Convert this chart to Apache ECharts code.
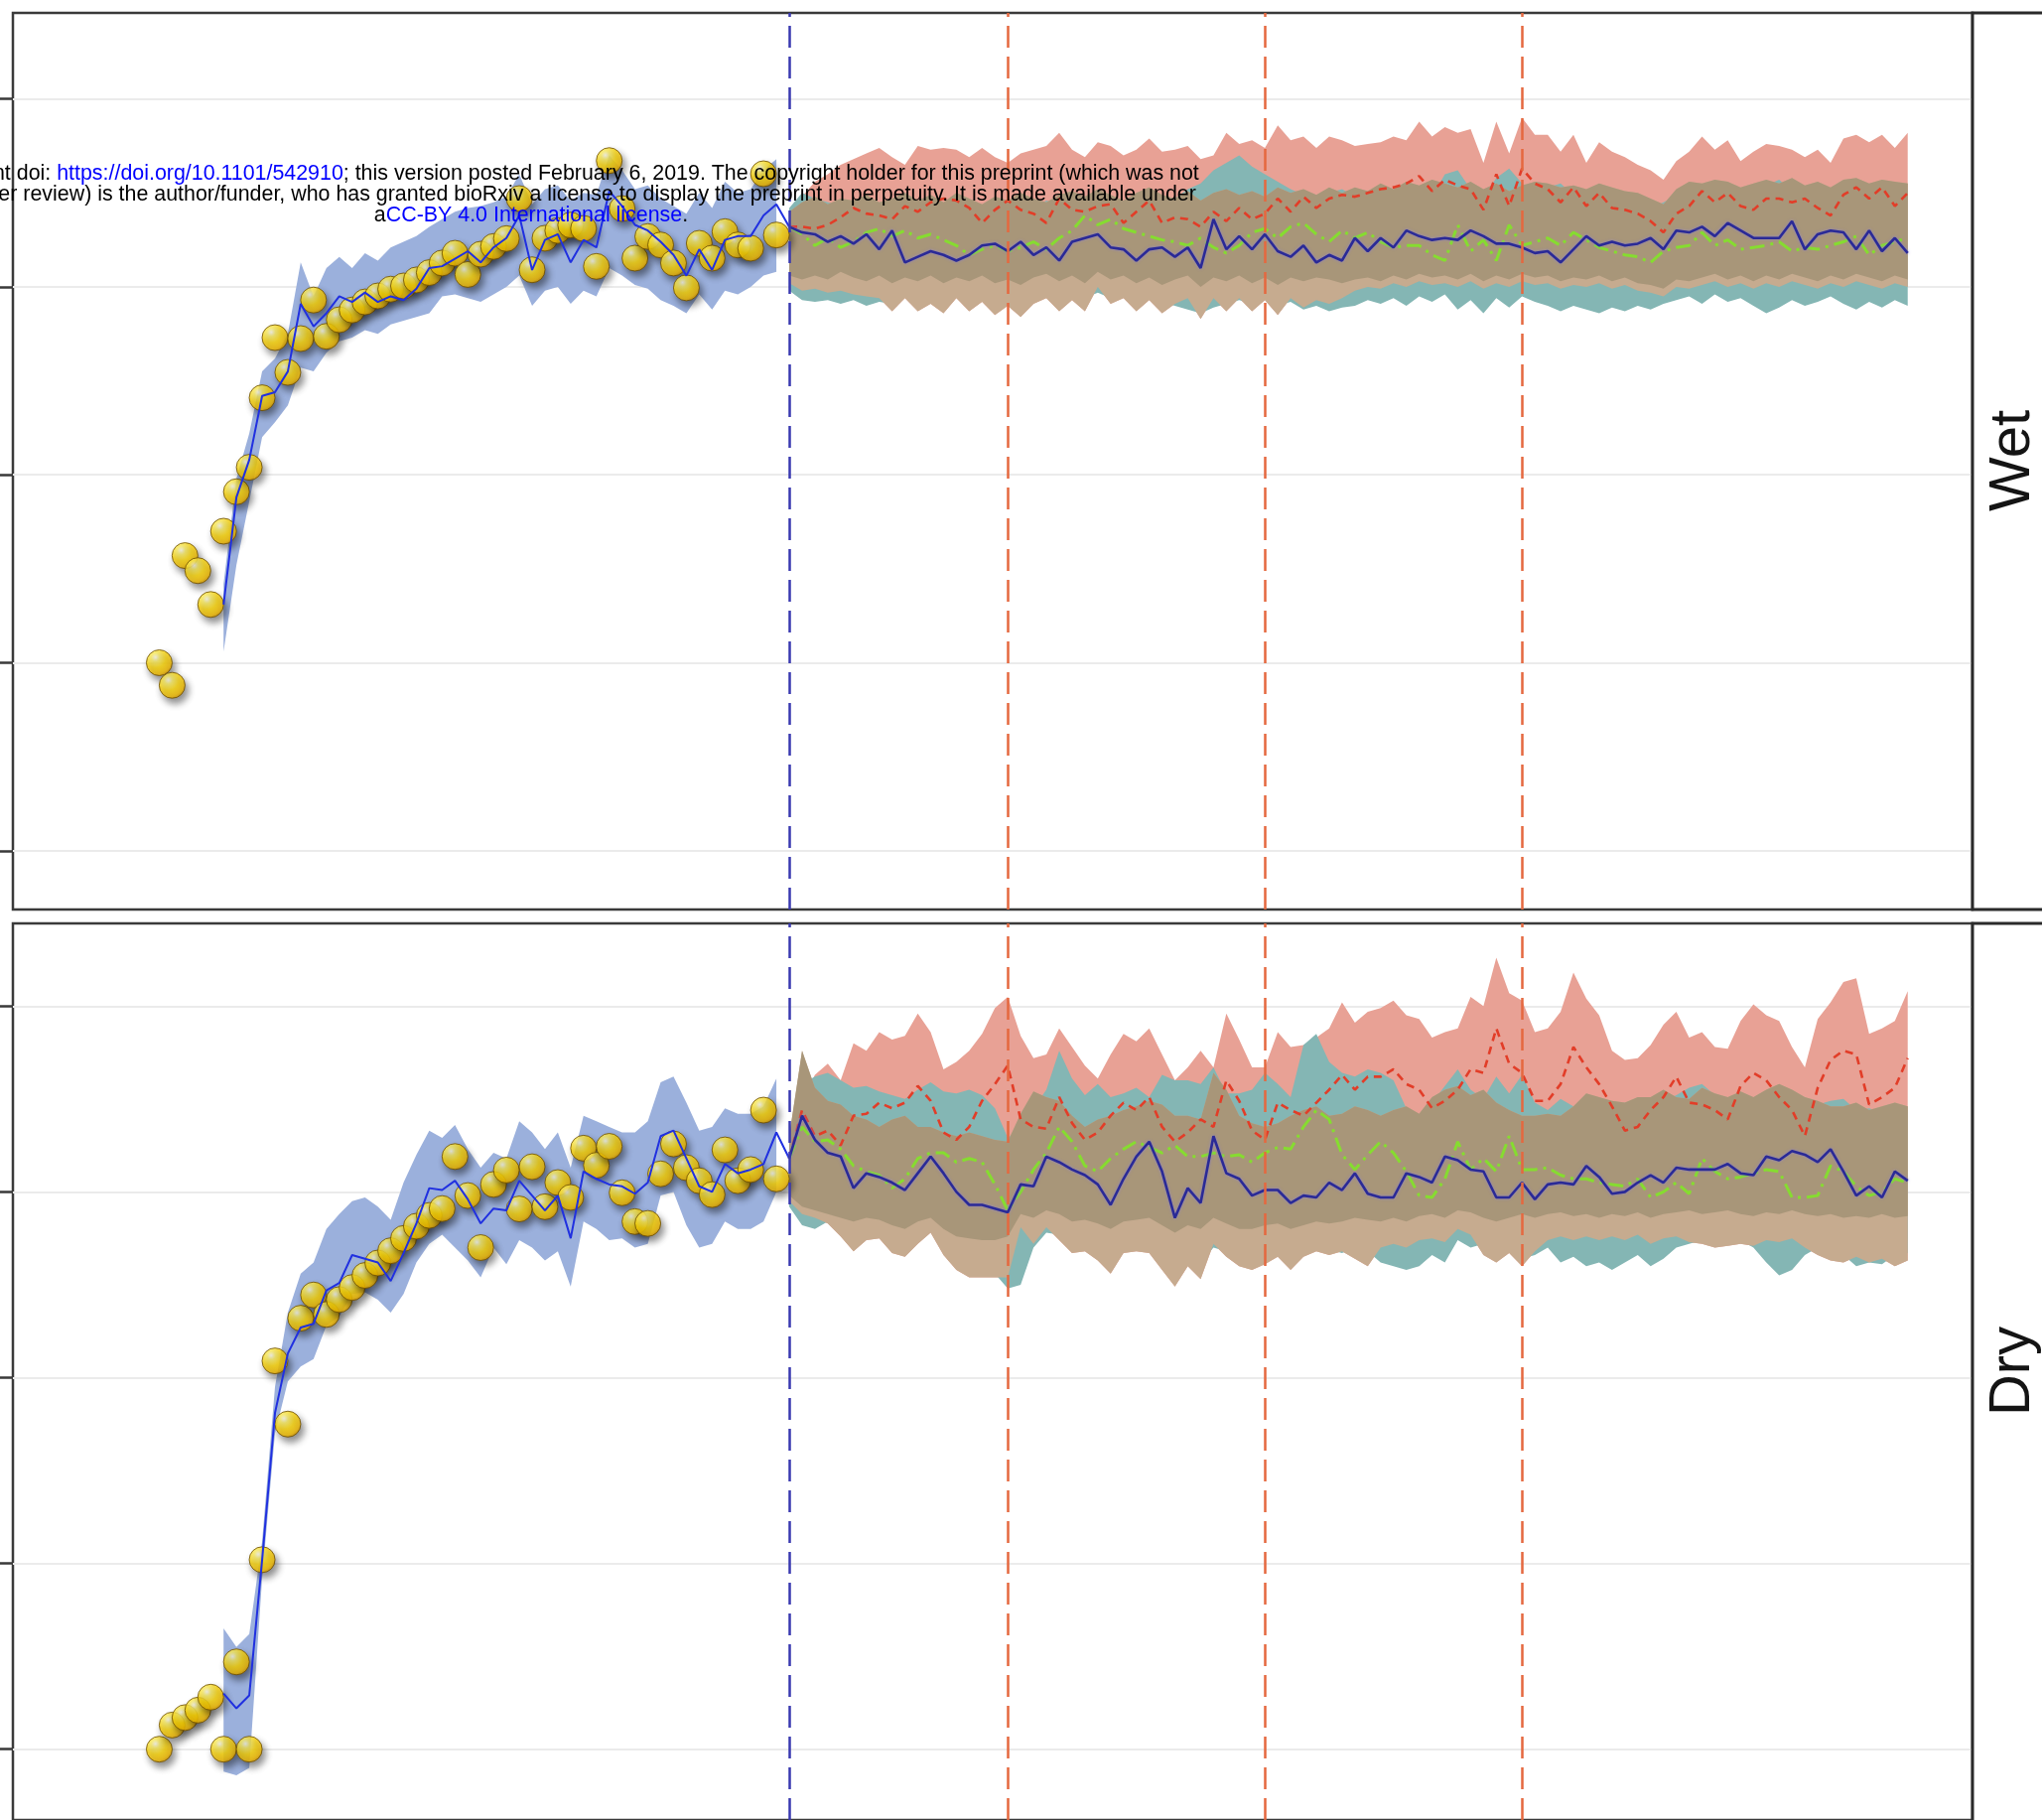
<!DOCTYPE html>
<html>
<head>
<meta charset="utf-8">
<script src="https://cdn.jsdelivr.net/npm/echarts@6/dist/echarts.min.js"></script>
<style>
  html, body { margin: 0; padding: 0; background: #ffffff; }
  #chart { width: 2057px; height: 1833px; }
</style>
</head>
<body>
<div id="chart"></div>
<script>
// ---------------- time axis ----------------
const obsFirstYear = 1969;   // first observed point
const fitFirstYear = 1974;   // first year of the fitted line and its band
const projFirstYear = 2018;  // first projected year
const projStartLine = 2018;  // end of the observed record
const scenarioBreaks = [2035, 2055, 2075];
const yTicks = [0, 1, 2, 3, 4];

// ---------------- Wet ----------------
const wetObs = [
  1.00, 0.88, 1.57, 1.49, 1.31, 1.70, 1.91, 2.04, 2.41, 2.73,
  2.545, 2.725, 2.93, 2.737, 2.825, 2.877, 2.92, 2.952, 2.988, 3.005,
  3.037, 3.076, 3.127, 3.179, 3.066, 3.174, 3.215, 3.257, 3.47, 3.091,
  3.259, 3.30, 3.329, 3.311, 3.109, 3.672, 3.417, 3.153, 3.268, 3.223,
  3.127, 2.995, 3.232, 3.153, 3.294, 3.223, 3.206, 3.602, 3.276
];
const wetFit = [
  1.31, 1.88, 2.08, 2.42, 2.44, 2.55, 2.91, 2.79, 2.86, 2.95,
  2.92, 2.97, 2.92, 2.95, 2.93, 2.99, 3.10, 3.11, 3.15, 3.19,
  3.13, 3.21, 3.26, 3.38, 3.09, 3.25, 3.28, 3.13, 3.25, 3.21,
  3.51, 3.43, 3.33, 3.30, 3.24, 3.17, 3.06, 3.20, 3.09, 3.25,
  3.27, 3.27, 3.38, 3.44
];
const wetFitLo = [
  1.06, 1.52, 1.86, 2.20, 2.28, 2.37, 2.57, 2.55, 2.65, 2.71,
  2.73, 2.77, 2.75, 2.80, 2.82, 2.84, 2.86, 2.95, 2.96, 2.94,
  2.92, 2.96, 3.00, 3.06, 2.90, 2.98, 3.00, 2.91, 2.98, 2.95,
  3.10, 3.06, 3.01, 2.99, 2.93, 2.90, 2.86, 2.96, 2.88, 2.98,
  2.96, 3.00, 3.06, 3.08
];
const wetFitHi = [
  1.42, 1.98, 2.22, 2.55, 2.62, 2.75, 3.13, 2.95, 3.10, 3.16,
  3.10, 3.18, 3.14, 3.21, 3.24, 3.27, 3.32, 3.36, 3.40, 3.42,
  3.43, 3.45, 3.48, 3.60, 3.44, 3.52, 3.54, 3.46, 3.50, 3.49,
  3.70, 3.62, 3.52, 3.54, 3.47, 3.43, 3.39, 3.50, 3.42, 3.56,
  3.50, 3.52, 3.62, 3.68
];
const wetBlue = [
  3.32, 3.29, 3.28, 3.24, 3.27, 3.23, 3.28, 3.20, 3.30, 3.13,
  3.16, 3.19, 3.17, 3.14, 3.17, 3.22, 3.23, 3.19, 3.24, 3.17,
  3.21, 3.14, 3.24, 3.26, 3.28, 3.21, 3.20, 3.14, 3.20, 3.21,
  3.16, 3.21, 3.10, 3.36, 3.20, 3.27, 3.20, 3.28, 3.19, 3.16,
  3.22, 3.13, 3.17, 3.14, 3.26, 3.19, 3.26, 3.21, 3.30, 3.27,
  3.25, 3.26, 3.25, 3.30, 3.27, 3.23, 3.23, 3.21, 3.18, 3.19,
  3.13, 3.20, 3.27, 3.22, 3.24, 3.22, 3.23, 3.26, 3.20, 3.30,
  3.29, 3.32, 3.27, 3.34, 3.30, 3.26, 3.26, 3.26, 3.35, 3.20,
  3.28, 3.30, 3.29, 3.20, 3.30, 3.19, 3.26, 3.18
];
const wetRed = [
  3.32, 3.32, 3.31, 3.33, 3.37, 3.42, 3.39, 3.38, 3.36, 3.43,
  3.40, 3.45, 3.47, 3.46, 3.42, 3.34, 3.41, 3.46, 3.41, 3.39,
  3.34, 3.47, 3.41, 3.40, 3.43, 3.44, 3.34, 3.40, 3.46, 3.34,
  3.37, 3.36, 3.32, 3.40, 3.35, 3.42, 3.36, 3.39, 3.47, 3.40,
  3.48, 3.42, 3.47, 3.49, 3.48, 3.50, 3.52, 3.53, 3.55, 3.59,
  3.51, 3.57, 3.54, 3.52, 3.41, 3.60, 3.43, 3.63, 3.55, 3.52,
  3.45, 3.53, 3.43, 3.50, 3.42, 3.41, 3.39, 3.35, 3.29, 3.39,
  3.43, 3.51, 3.45, 3.50, 3.43, 3.41, 3.47, 3.47, 3.45, 3.47,
  3.42, 3.38, 3.49, 3.53, 3.47, 3.53, 3.43, 3.50
];
const wetGreen = [
  3.32, 3.28, 3.22, 3.26, 3.21, 3.24, 3.29, 3.31, 3.27, 3.30,
  3.26, 3.28, 3.25, 3.22, 3.17, 3.20, 3.22, 3.19, 3.21, 3.24,
  3.20, 3.26, 3.30, 3.38, 3.33, 3.36, 3.31, 3.29, 3.27, 3.25,
  3.24, 3.22, 3.26, 3.21, 3.18, 3.22, 3.29, 3.31, 3.26, 3.32,
  3.34, 3.28, 3.24, 3.30, 3.26, 3.29, 3.24, 3.21, 3.22, 3.22,
  3.17, 3.14, 3.33, 3.19, 3.25, 3.14, 3.33, 3.22, 3.24, 3.26,
  3.22, 3.29, 3.25, 3.21, 3.19, 3.17, 3.16, 3.13, 3.19, 3.21,
  3.22, 3.29, 3.22, 3.25, 3.20, 3.21, 3.22, 3.24, 3.19, 3.21,
  3.20, 3.22, 3.24, 3.27, 3.17, 3.22, 3.24, 3.26
];
const wetRedHi = [
  3.40, 3.48, 3.56, 3.60, 3.65, 3.68, 3.71, 3.74, 3.69, 3.65,
  3.75, 3.73, 3.74, 3.73, 3.69, 3.74, 3.69, 3.66, 3.71, 3.73,
  3.75, 3.82, 3.73, 3.69, 3.77, 3.75, 3.70, 3.73, 3.79, 3.72,
  3.73, 3.75, 3.68, 3.70, 3.82, 3.76, 3.78, 3.74, 3.86, 3.78,
  3.80, 3.74, 3.80, 3.78, 3.75, 3.76, 3.77, 3.80, 3.78, 3.88,
  3.80, 3.85, 3.82, 3.84, 3.66, 3.88, 3.71, 3.90, 3.81, 3.81,
  3.72, 3.81, 3.66, 3.77, 3.72, 3.69, 3.65, 3.62, 3.57, 3.67,
  3.72, 3.80, 3.73, 3.78, 3.67, 3.72, 3.76, 3.75, 3.73, 3.69,
  3.73, 3.66, 3.79, 3.81, 3.77, 3.81, 3.74, 3.82
];
const wetTealHi = [
  3.42, 3.50, 3.47, 3.45, 3.43, 3.40, 3.44, 3.42, 3.38, 3.41,
  3.44, 3.40, 3.42, 3.45, 3.41, 3.38, 3.43, 3.40, 3.45, 3.42,
  3.46, 3.44, 3.41, 3.45, 3.47, 3.43, 3.40, 3.46, 3.48, 3.44,
  3.47, 3.52, 3.55, 3.62, 3.66, 3.70, 3.64, 3.60, 3.56, 3.52,
  3.49, 3.46, 3.50, 3.52, 3.48, 3.46, 3.44, 3.47, 3.45, 3.50,
  3.48, 3.60, 3.62, 3.52, 3.48, 3.58, 3.63, 3.55, 3.50, 3.53,
  3.55, 3.49, 3.47, 3.50, 3.48, 3.46, 3.44, 3.42, 3.45, 3.49,
  3.52, 3.50, 3.53, 3.51, 3.49, 3.52, 3.54, 3.57, 3.51, 3.48,
  3.52, 3.50, 3.53, 3.55, 3.50, 3.54, 3.52, 3.51
];
const wetBrownHi = [
  3.40, 3.45, 3.48, 3.44, 3.47, 3.46, 3.49, 3.45, 3.47, 3.50,
  3.46, 3.49, 3.45, 3.50, 3.47, 3.44, 3.48, 3.46, 3.50, 3.47,
  3.45, 3.49, 3.51, 3.48, 3.52, 3.49, 3.46, 3.50, 3.53, 3.49,
  3.47, 3.51, 3.46, 3.50, 3.52, 3.49, 3.51, 3.48, 3.53, 3.50,
  3.52, 3.49, 3.53, 3.50, 3.53, 3.51, 3.55, 3.52, 3.56, 3.54,
  3.57, 3.55, 3.53, 3.56, 3.52, 3.55, 3.51, 3.54, 3.56, 3.55,
  3.53, 3.54, 3.52, 3.55, 3.53, 3.51, 3.50, 3.47, 3.44, 3.52,
  3.56, 3.55, 3.57, 3.56, 3.53, 3.55, 3.57, 3.55, 3.58, 3.54,
  3.56, 3.53, 3.57, 3.58, 3.55, 3.57, 3.56, 3.55
];
const wetDarkLo = [
  3.06, 3.04, 3.06, 3.04, 3.08, 3.05, 3.03, 3.06, 3.02, 3.05,
  3.03, 3.06, 3.02, 3.05, 3.03, 3.06, 3.02, 3.04, 3.01, 3.05,
  3.07, 3.03, 3.06, 3.02, 3.08, 3.04, 3.06, 3.02, 3.05, 3.01,
  3.04, 3.06, 3.00, 3.05, 3.03, 3.06, 3.02, 3.05, 3.01, 3.05,
  3.03, 3.05, 3.04, 3.02, 3.04, 3.05, 3.03, 3.06, 3.04, 3.07,
  3.05, 3.06, 3.04, 3.07, 3.03, 3.06, 3.04, 3.07, 3.05, 3.06,
  3.03, 3.05, 3.04, 3.06, 3.03, 3.05, 3.02, 3.01, 2.99, 3.04,
  3.03, 3.05, 3.07, 3.04, 3.06, 3.03, 3.06, 3.04, 3.07, 3.05,
  3.03, 3.06, 3.04, 3.07, 3.05, 3.03, 3.06, 3.04
];
const wetTanLo = [
  3.02, 2.98, 2.99, 2.97, 2.98, 2.96, 2.95, 2.94, 2.87, 2.94,
  2.87, 2.91, 2.86, 2.94, 2.87, 2.92, 2.85, 2.90, 2.84, 2.91,
  2.94, 2.87, 2.93, 2.87, 3.00, 2.91, 2.94, 2.87, 2.93, 2.86,
  2.91, 2.94, 2.83, 2.94, 2.87, 2.94, 2.87, 2.93, 2.85, 2.94,
  2.89, 2.93, 2.91, 2.94, 2.98, 3.00, 2.99, 3.02, 3.00, 3.03,
  3.01, 3.02, 3.00, 3.03, 2.99, 3.02, 3.00, 3.03, 3.01, 3.02,
  2.99, 3.01, 3.00, 3.02, 2.99, 3.01, 2.98, 2.97, 2.95, 3.00,
  2.99, 3.01, 3.03, 3.00, 3.02, 2.99, 3.02, 3.00, 3.03, 3.01,
  2.99, 3.02, 3.00, 3.03, 3.01, 2.99, 3.02, 3.00
];
const wetTealLo = [
  2.98, 2.93, 2.92, 2.93, 2.91, 2.93, 2.90, 2.92, 2.91, 2.96,
  2.93, 2.95, 2.94, 2.96, 2.93, 2.95, 2.94, 2.95, 2.92, 2.94,
  2.96, 2.93, 2.95, 2.94, 2.97, 2.94, 2.96, 2.93, 2.95, 2.92,
  2.90, 2.88, 2.86, 2.89, 2.91, 2.93, 2.91, 2.94, 2.90, 2.92,
  2.88, 2.90, 2.87, 2.89, 2.90, 2.93, 2.91, 2.94, 2.90, 2.95,
  2.92, 2.96, 2.88, 2.93, 2.86, 2.94, 2.89, 2.95, 2.92, 2.90,
  2.87, 2.90, 2.88, 2.86, 2.89, 2.87, 2.90, 2.88, 2.91, 2.93,
  2.95, 2.91, 2.96, 2.92, 2.94, 2.90, 2.86, 2.89, 2.93, 2.90,
  2.92, 2.95, 2.91, 2.88, 2.92, 2.89, 2.93, 2.90
];

// ---------------- Dry ----------------
const dryObs = [
  0.00, 0.13, 0.17, 0.21, 0.28, 0.00, 0.47, 0.00, 1.02, 2.09,
  1.75, 2.32, 2.445, 2.34, 2.42, 2.485, 2.55, 2.617, 2.683, 2.749,
  2.815, 2.873, 2.91, 3.19, 2.98, 2.70, 3.04, 3.117, 2.908, 3.135,
  2.92, 3.05, 2.97, 3.235, 3.143, 3.245, 2.995, 2.84, 2.83, 3.097,
  3.258, 3.13, 3.06, 2.985, 3.226, 3.06, 3.12, 3.44, 3.07
];
const dryFit = [
  0.30, 0.22, 0.29, 1.02, 1.81, 2.13, 2.27, 2.29, 2.47, 2.51,
  2.66, 2.64, 2.62, 2.52, 2.67, 2.83, 3.02, 3.01, 3.06, 2.96,
  2.83, 2.91, 2.90, 3.06, 2.98, 2.90, 2.98, 2.75, 3.11, 3.07,
  3.04, 3.03, 2.99, 3.05, 3.30, 3.33, 3.18, 3.03, 3.00, 3.15,
  3.10, 3.12, 3.15, 3.32
];
const dryFitLo = [
  -0.12, -0.14, -0.10, 0.92, 1.70, 1.98, 2.06, 2.10, 2.28, 2.33,
  2.45, 2.46, 2.42, 2.35, 2.45, 2.62, 2.72, 2.77, 2.70, 2.63,
  2.54, 2.70, 2.61, 2.74, 2.70, 2.63, 2.68, 2.49, 2.84, 2.80,
  2.74, 2.75, 2.70, 2.72, 2.98, 3.00, 2.82, 2.70, 2.72, 2.84,
  2.80, 2.80, 2.84, 3.00
];
const dryFitHi = [
  0.65, 0.55, 0.62, 1.12, 1.95, 2.35, 2.56, 2.62, 2.80, 2.88,
  2.95, 2.97, 2.92, 2.85, 3.05, 3.20, 3.33, 3.29, 3.36, 3.23,
  3.13, 3.21, 3.18, 3.38, 3.32, 3.23, 3.32, 3.13, 3.41, 3.38,
  3.35, 3.32, 3.32, 3.38, 3.59, 3.62, 3.48, 3.33, 3.35, 3.45,
  3.42, 3.42, 3.46, 3.61
];
const dryBlue = [
  3.18, 3.41, 3.28, 3.21, 3.19, 3.02, 3.10, 3.08, 3.05, 3.01,
  3.10, 3.19, 3.10, 3.00, 2.93, 2.93, 2.91, 2.89, 3.04, 3.03,
  3.19, 3.16, 3.12, 3.09, 3.04, 2.93, 3.07, 3.19, 3.27, 3.11,
  2.86, 3.02, 2.94, 3.30, 3.10, 3.07, 2.98, 3.01, 3.01, 2.94,
  2.98, 2.97, 3.05, 3.01, 3.10, 2.99, 2.97, 2.97, 3.10, 3.08,
  3.05, 3.19, 3.17, 3.12, 3.11, 2.97, 2.97, 3.05, 2.96, 3.04,
  3.05, 3.04, 3.14, 3.08, 2.99, 3.00, 3.05, 3.09, 3.05, 3.13,
  3.12, 3.12, 3.12, 3.15, 3.10, 3.09, 3.19, 3.17, 3.22, 3.20,
  3.16, 3.23, 3.11, 2.98, 3.03, 2.97, 3.11, 3.06
];
const dryRed = [
  3.18, 3.44, 3.30, 3.33, 3.25, 3.41, 3.42, 3.48, 3.45, 3.48,
  3.57, 3.49, 3.32, 3.28, 3.35, 3.49, 3.58, 3.68, 3.39, 3.35,
  3.34, 3.51, 3.37, 3.28, 3.32, 3.41, 3.48, 3.44, 3.51, 3.35,
  3.27, 3.32, 3.39, 3.35, 3.60, 3.49, 3.33, 3.28, 3.48, 3.44,
  3.41, 3.48, 3.55, 3.63, 3.55, 3.62, 3.62, 3.66, 3.58, 3.55,
  3.45, 3.49, 3.55, 3.66, 3.64, 3.88, 3.69, 3.64, 3.49, 3.49,
  3.58, 3.78, 3.67, 3.58, 3.46, 3.33, 3.35, 3.44, 3.51, 3.62,
  3.48, 3.47, 3.44, 3.39, 3.57, 3.64, 3.60, 3.51, 3.44, 3.30,
  3.56, 3.71, 3.76, 3.74, 3.47, 3.51, 3.56, 3.72
];
const dryGreen = [
  3.18, 3.35, 3.27, 3.28, 3.23, 3.14, 3.11, 3.09, 3.02, 3.07,
  3.18, 3.21, 3.21, 3.16, 3.18, 3.16, 3.04, 2.90, 3.00, 3.12,
  3.21, 3.35, 3.27, 3.14, 3.11, 3.18, 3.23, 3.27, 3.24, 3.21,
  3.25, 3.19, 3.19, 3.21, 3.19, 3.20, 3.16, 3.21, 3.24, 3.23,
  3.35, 3.44, 3.39, 3.20, 3.12, 3.20, 3.27, 3.21, 3.11, 2.98,
  2.97, 3.07, 3.27, 3.12, 3.18, 3.11, 3.30, 3.12, 3.12, 3.13,
  3.09, 3.07, 3.07, 3.05, 3.04, 3.03, 3.07, 2.97, 3.00, 3.05,
  2.99, 3.18, 3.11, 3.07, 3.08, 3.10, 3.12, 3.11, 2.97, 2.97,
  2.98, 3.14, 3.11, 3.03, 2.98, 3.00, 3.07, 3.05
];
const dryRedHi = [
  3.25, 3.50, 3.63, 3.69, 3.60, 3.80, 3.76, 3.86, 3.82, 3.84,
  3.96, 3.86, 3.66, 3.70, 3.76, 3.85, 3.99, 4.05, 3.84, 3.72,
  3.74, 3.88, 3.78, 3.68, 3.61, 3.74, 3.85, 3.81, 3.88, 3.74,
  3.60, 3.67, 3.76, 3.67, 3.96, 3.82, 3.67, 3.67, 3.86, 3.78,
  3.79, 3.83, 3.88, 4.02, 3.91, 3.97, 3.99, 4.03, 3.95, 3.93,
  3.83, 3.86, 3.88, 4.05, 4.00, 4.26, 4.07, 4.03, 3.86, 3.88,
  3.97, 4.18, 4.04, 3.95, 3.76, 3.71, 3.72, 3.79, 3.90, 3.97,
  3.83, 3.86, 3.78, 3.77, 3.92, 4.01, 3.95, 3.92, 3.78, 3.67,
  3.93, 4.02, 4.13, 4.15, 3.85, 3.88, 3.92, 4.08
];
const dryTealHi = [
  3.30, 3.58, 3.62, 3.64, 3.60, 3.56, 3.57, 3.54, 3.52, 3.50,
  3.55, 3.59, 3.54, 3.53, 3.55, 3.52, 3.45, 3.29, 3.35, 3.45,
  3.55, 3.76, 3.61, 3.52, 3.58, 3.51, 3.53, 3.56, 3.51, 3.63,
  3.60, 3.60, 3.58, 3.67, 3.53, 3.53, 3.55, 3.64, 3.58, 3.51,
  3.79, 3.85, 3.70, 3.64, 3.62, 3.66, 3.64, 3.60, 3.45, 3.40,
  3.48, 3.57, 3.66, 3.55, 3.50, 3.62, 3.53, 3.63, 3.48, 3.44,
  3.50, 3.46, 3.43, 3.44, 3.46, 3.48, 3.45, 3.47, 3.49, 3.52,
  3.56, 3.58, 3.52, 3.49, 3.50, 3.47, 3.50, 3.52, 3.48, 3.45,
  3.47, 3.49, 3.50, 3.44, 3.45, 3.43, 3.46, 3.44
];
const dryBrownHi = [
  3.30, 3.76, 3.56, 3.49, 3.47, 3.41, 3.39, 3.35, 3.39, 3.41,
  3.35, 3.35, 3.32, 3.30, 3.32, 3.30, 3.28, 3.27, 3.42, 3.54,
  3.51, 3.49, 3.41, 3.35, 3.39, 3.41, 3.44, 3.46, 3.49, 3.47,
  3.41, 3.41, 3.39, 3.64, 3.55, 3.41, 3.37, 3.35, 3.37, 3.41,
  3.44, 3.46, 3.41, 3.42, 3.46, 3.44, 3.41, 3.44, 3.46, 3.42,
  3.51, 3.55, 3.57, 3.52, 3.55, 3.48, 3.44, 3.41, 3.41, 3.42,
  3.41, 3.46, 3.53, 3.51, 3.49, 3.48, 3.51, 3.51, 3.55, 3.51,
  3.50, 3.56, 3.53, 3.51, 3.54, 3.51, 3.55, 3.58, 3.55, 3.51,
  3.49, 3.46, 3.46, 3.48, 3.44, 3.46, 3.48, 3.46
];
const dryDarkLo = [
  2.98, 2.92, 2.90, 2.88, 2.86, 2.84, 2.86, 2.85, 2.82, 2.80,
  2.84, 2.86, 2.80, 2.76, 2.75, 2.74, 2.74, 2.76, 2.88, 2.86,
  2.90, 2.88, 2.84, 2.85, 2.83, 2.80, 2.84, 2.85, 2.86, 2.82,
  2.78, 2.82, 2.80, 2.86, 2.83, 2.80, 2.80, 2.82, 2.83, 2.80,
  2.82, 2.84, 2.83, 2.84, 2.86, 2.85, 2.84, 2.86, 2.84, 2.87,
  2.88, 2.86, 2.90, 2.89, 2.86, 2.84, 2.86, 2.88, 2.86, 2.88,
  2.89, 2.87, 2.88, 2.86, 2.88, 2.87, 2.89, 2.86, 2.88, 2.89,
  2.90, 2.88, 2.89, 2.90, 2.88, 2.87, 2.89, 2.88, 2.90, 2.88,
  2.87, 2.88, 2.86, 2.87, 2.86, 2.88, 2.86, 2.87
];
const dryTanLo = [
  2.95, 2.88, 2.86, 2.83, 2.76, 2.68, 2.74, 2.75, 2.67, 2.65,
  2.72, 2.78, 2.66, 2.58, 2.54, 2.54, 2.54, 2.54, 2.81, 2.72,
  2.81, 2.74, 2.67, 2.68, 2.63, 2.56, 2.67, 2.68, 2.67, 2.58,
  2.49, 2.60, 2.53, 2.72, 2.65, 2.60, 2.58, 2.61, 2.65, 2.58,
  2.65, 2.68, 2.66, 2.68, 2.64, 2.60, 2.70, 2.72, 2.70, 2.74,
  2.75, 2.73, 2.80, 2.77, 2.66, 2.62, 2.67, 2.60, 2.68, 2.74,
  2.76, 2.74, 2.76, 2.74, 2.76, 2.74, 2.77, 2.72, 2.75, 2.76,
  2.73, 2.72, 2.70, 2.71, 2.72, 2.71, 2.74, 2.73, 2.75, 2.70,
  2.66, 2.63, 2.62, 2.65, 2.62, 2.64, 2.60, 2.63
];
const dryTealLo = [
  2.92, 2.82, 2.80, 2.84, 2.80, 2.74, 2.78, 2.80, 2.72, 2.70,
  2.76, 2.80, 2.72, 2.65, 2.60, 2.58, 2.56, 2.48, 2.50, 2.70,
  2.78, 2.77, 2.72, 2.74, 2.70, 2.66, 2.72, 2.74, 2.71, 2.66,
  2.60, 2.66, 2.62, 2.70, 2.68, 2.66, 2.64, 2.66, 2.68, 2.66,
  2.68, 2.70, 2.69, 2.67, 2.70, 2.68, 2.62, 2.60, 2.58, 2.60,
  2.66, 2.62, 2.74, 2.70, 2.72, 2.68, 2.70, 2.64, 2.66, 2.70,
  2.62, 2.65, 2.60, 2.62, 2.58, 2.62, 2.66, 2.60, 2.64, 2.70,
  2.72, 2.74, 2.74, 2.75, 2.74, 2.70, 2.62, 2.55, 2.58, 2.66,
  2.70, 2.69, 2.66, 2.60, 2.62, 2.61, 2.66, 2.67
];

// ---------------- styling ----------------
const COLORS = {
  fitBand: '#9bb0dc',
  fitLine: '#2030e0',
  projBlue: '#2a2a96',
  red: '#e23d28',
  green: '#86dc30',
  redBand: '#e8a195',
  tealBand: '#84b6b4',
  tanBand: '#c6ab8f',
  brownBand: '#a89679',
  startLine: '#3838b0',
  breakLine: '#e5683f',
  grid: '#ebebeb',
  frame: '#3a3a3a'
};
const WM_FONT = '21.4px "Liberation Sans", Arial, sans-serif';
const STRIP_FONT = '58px "Liberation Sans", Arial, sans-serif';

const X_MIN = 1957.614;
const X_MAX = 2110.04;

const panels = [
  {
    label: 'Wet', top: 13, height: 903, yMin: -0.313, yMax: 4.458,
    obs: wetObs, fit: wetFit, fitLo: wetFitLo, fitHi: wetFitHi,
    blue: wetBlue, red: wetRed, green: wetGreen,
    redHi: wetRedHi, tealHi: wetTealHi, tealLo: wetTealLo,
    brownHi: wetBrownHi, darkLo: wetDarkLo, tanLo: wetTanLo
  },
  {
    label: 'Dry', top: 930, height: 913, yMin: -0.381, yMax: 4.445,
    obs: dryObs, fit: dryFit, fitLo: dryFitLo, fitHi: dryFitHi,
    blue: dryBlue, red: dryRed, green: dryGreen,
    redHi: dryRedHi, tealHi: dryTealHi, tealLo: dryTealLo,
    brownHi: dryBrownHi, darkLo: dryDarkLo, tanLo: dryTanLo
  }
];

const yearsFrom = (first, n) => Array.from({ length: n }, (_, i) => first + i);
const pairs = (years, vals) => years.map((y, i) => [y, vals[i]]);

// sanity check on series lengths
panels.forEach(p => {
  const n = p.blue.length;
  ['red', 'green', 'redHi', 'tealHi', 'tealLo', 'brownHi', 'darkLo', 'tanLo'].forEach(k => {
    if (p[k].length !== n) throw new Error(p.label + ' ' + k + ' length ' + p[k].length + ' != ' + n);
  });
  ['fitLo', 'fitHi'].forEach(k => {
    if (p[k].length !== p.fit.length) throw new Error(p.label + ' ' + k + ' length mismatch');
  });
});

// filled band between a lower and an upper edge, drawn as one polygon
function bandSeries(name, gi, years, lo, hi, color, z) {
  const data = years.map((y, i) => [y, lo[i], hi[i]]);
  return {
    type: 'custom', name, xAxisIndex: gi, yAxisIndex: gi, z, silent: true,
    animation: false,
    encode: { x: 0, y: [1, 2] },
    data,
    renderItem: (params, api) => {
      if (params.dataIndex !== 0) return null;
      const upper = data.map(d => api.coord([d[0], d[2]]));
      const lower = data.map(d => api.coord([d[0], d[1]])).reverse();
      return {
        type: 'polygon',
        shape: { points: upper.concat(lower) },
        style: { fill: color, lineWidth: 0 },
        silent: true
      };
    }
  };
}

// glossy yellow ball
const ballColor = {
  type: 'radial', x: 0.36, y: 0.3, r: 0.78,
  colorStops: [
    { offset: 0, color: '#fffce8' },
    { offset: 0.2, color: '#fff060' },
    { offset: 0.5, color: '#ffd90a' },
    { offset: 0.8, color: '#f7c000' },
    { offset: 0.95, color: '#d49400' },
    { offset: 1, color: '#a87400' }
  ]
};

function panelSeries(p, gi) {
  const obsYears = yearsFrom(obsFirstYear, p.obs.length);
  const fitYears = yearsFrom(fitFirstYear, p.fit.length);
  const projYears = yearsFrom(projFirstYear, p.blue.length);
  const ax = { xAxisIndex: gi, yAxisIndex: gi };
  const lineBase = { type: 'line', ...ax, showSymbol: false, symbol: 'none', smooth: false, animation: false, silent: true };
  return [
    bandSeries('fit band', gi, fitYears, p.fitLo, p.fitHi, COLORS.fitBand, 1),
    bandSeries('high band', gi, projYears, p.tanLo, p.redHi, COLORS.redBand, 1),
    bandSeries('mid band', gi, projYears, p.tealLo, p.tealHi, COLORS.tealBand, 1),
    bandSeries('low band outer', gi, projYears, p.tanLo, p.brownHi, COLORS.tanBand, 1),
    bandSeries('low band inner', gi, projYears, p.darkLo, p.brownHi, COLORS.brownBand, 1),
    {
      ...lineBase, z: 2, data: [],
      markLine: {
        silent: true, animation: false, symbol: ['none', 'none'], label: { show: false },
        data: [{ xAxis: projStartLine, lineStyle: { color: COLORS.startLine, width: 2.5, type: [22, 9] } }]
          .concat(scenarioBreaks.map(x => ({ xAxis: x, lineStyle: { color: COLORS.breakLine, width: 2.5, type: [22, 9] } })))
      }
    },
    {
      type: 'scatter', ...ax, z: 3, animation: false, silent: true,
      symbol: 'circle', symbolSize: 26,
      itemStyle: {
        color: ballColor, borderColor: '#6a4c00', borderWidth: 1,
        shadowBlur: 7, shadowColor: 'rgba(0,0,0,0.55)', shadowOffsetX: 3, shadowOffsetY: 5
      },
      data: pairs(obsYears, p.obs)
    },
    {
      ...lineBase, z: 4,
      lineStyle: { color: COLORS.fitLine, width: 2 },
      data: pairs(fitYears, p.fit).concat([[projYears[0], p.blue[0]]])
    },
    {
      ...lineBase, z: 4,
      lineStyle: { color: COLORS.red, width: 2.6, type: [8, 6] },
      data: pairs(projYears, p.red)
    },
    {
      ...lineBase, z: 4,
      lineStyle: { color: COLORS.green, width: 3, type: [15, 6, 3, 6] },
      data: pairs(projYears, p.green)
    },
    {
      ...lineBase, z: 4,
      lineStyle: { color: COLORS.projBlue, width: 2.6, shadowColor: 'rgba(130,120,230,0.7)', shadowBlur: 3 },
      data: pairs(projYears, p.blue)
    }
  ];
}

const option = {
  animation: false,
  backgroundColor: '#ffffff',
  grid: panels.map(p => ({
    left: 13, top: p.top, width: 1974, height: p.height,
    show: true, borderColor: COLORS.frame, borderWidth: 2.5, backgroundColor: '#ffffff'
  })),
  xAxis: panels.map((p, gi) => ({
    gridIndex: gi, type: 'value', min: X_MIN, max: X_MAX, show: false
  })),
  yAxis: panels.map((p, gi) => ({
    gridIndex: gi, type: 'value', min: p.yMin, max: p.yMax,
    axisLine: { show: false },
    axisTick: { show: true, inside: false, length: 13, customValues: yTicks, lineStyle: { color: COLORS.frame, width: 2.5 } },
    axisLabel: { show: false, customValues: yTicks },
    splitLine: { show: true, lineStyle: { color: COLORS.grid, width: 2 } }
  })),
  series: panels.flatMap((p, gi) => panelSeries(p, gi)),
  graphic: [
    // facet strips on the right
    { type: 'rect', z: 50, silent: true, shape: { x: 1987, y: 13, width: 120, height: 903 }, style: { fill: '#ffffff', stroke: '#2a2a2a', lineWidth: 3 } },
    { type: 'rect', z: 50, silent: true, shape: { x: 1987, y: 930, width: 120, height: 960 }, style: { fill: '#ffffff', stroke: '#2a2a2a', lineWidth: 3 } },
    { type: 'text', z: 51, silent: true, x: 2028, y: 464, rotation: Math.PI / 2,
      style: { text: panels[0].label, font: STRIP_FONT, fill: '#141414', textAlign: 'center', textVerticalAlign: 'middle', align: 'center', verticalAlign: 'middle' } },
    { type: 'text', z: 51, silent: true, x: 2028, y: 1381, rotation: Math.PI / 2,
      style: { text: panels[1].label, font: STRIP_FONT, fill: '#141414', textAlign: 'center', textVerticalAlign: 'middle', align: 'center', verticalAlign: 'middle' } },
    // preprint stamp
    { type: 'text', z: 60, silent: true, x: 535, y: 175.5,
      style: {
        text: '{k|bioRxiv preprint doi: }{u|https://doi.org/10.1101/542910}{k|; this version posted February 6, 2019. The copyright holder for this preprint (which was not}',
        rich: { k: { fill: '#000000', font: WM_FONT }, u: { fill: '#0000ff', font: WM_FONT } },
        font: WM_FONT, textAlign: 'center', textVerticalAlign: 'middle', align: 'center', verticalAlign: 'middle'
      } },
    { type: 'text', z: 60, silent: true, x: 535, y: 196.5,
      style: {
        text: 'certified by peer review) is the author/funder, who has granted bioRxiv a license to display the preprint in perpetuity. It is made available under',
        fill: '#000000', font: WM_FONT, textAlign: 'center', textVerticalAlign: 'middle', align: 'center', verticalAlign: 'middle'
      } },
    { type: 'text', z: 60, silent: true, x: 535, y: 217.5,
      style: {
        text: '{k|a}{u|CC-BY 4.0 International license}{k|.}',
        rich: { k: { fill: '#000000', font: WM_FONT }, u: { fill: '#0000ff', font: WM_FONT } },
        font: WM_FONT, textAlign: 'center', textVerticalAlign: 'middle', align: 'center', verticalAlign: 'middle'
      } }
  ]
};

const chart = echarts.init(document.getElementById('chart'), null, { renderer: 'canvas', width: 2057, height: 1833 });
chart.setOption(option);
</script>
</body>
</html>
